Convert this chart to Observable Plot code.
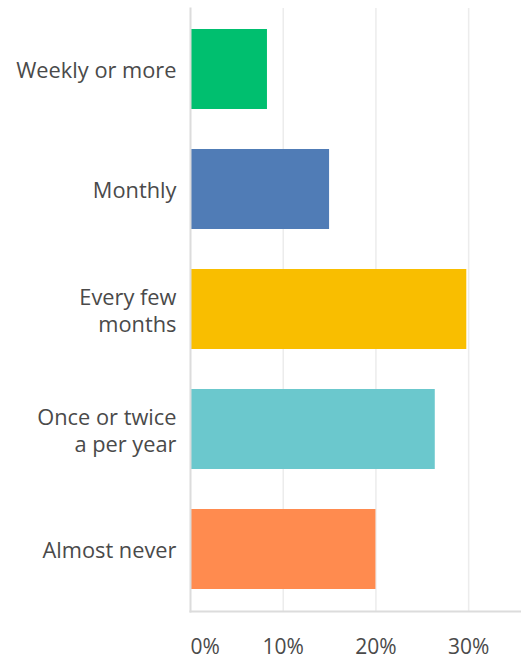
<!DOCTYPE html>
<html>
<head>
<meta charset="utf-8">
<script src="https://cdn.jsdelivr.net/npm/d3@7"></script>
<script src="https://cdn.jsdelivr.net/npm/@observablehq/plot@0.6"></script>
<style>
  html, body { margin: 0; padding: 0; background: #fff; }
  svg { display: block; }
</style>
</head>
<body>
<div id="chart"></div>
<script>
const categories = ["Weekly or more", "Monthly", "Every few months", "Once or twice a per year", "Almost never"];
const labels = ["Weekly or more", "Monthly", "Every few\nmonths", "Once or twice\na per year", "Almost never"];
const values = [8.3, 15.0, 29.8, 26.4, 20.0];
const colors = ["#00BF6F", "#507CB6", "#F9BE00", "#6BC8CD", "#FF8B4F"];
const xTicks = [0, 10, 20, 30];
const xTickLabels = ["0%", "10%", "20%", "30%"];

const data = categories.map((c, i) => ({category: c, value: values[i], color: colors[i]}));
const labelOf = new Map(categories.map((c, i) => [c, labels[i]]));
const tickLabelOf = new Map(xTicks.map((t, i) => [t, xTickLabels[i]]));

const chart = Plot.plot({
  width: 521,
  height: 658,
  marginLeft: 190,
  marginRight: 0,
  marginTop: 8,
  marginBottom: 47,
  style: {fontFamily: "'Open Sans', sans-serif", fontSize: "22px", color: "#4a4a4a", background: "#fff"},
  x: {domain: [0, 35.7], axis: null, label: null},
  y: {domain: categories, paddingInner: 0.333, paddingOuter: 0.167, axis: null, label: null},
  marks: [
    Plot.gridX([10, 20, 30], {stroke: "#ececec", strokeOpacity: 1, strokeWidth: 1.5}),
    Plot.barX(data, {y: "category", x: "value", fill: d => d.color}),
    Plot.frame({anchor: "left", stroke: "#dcdcdc", strokeWidth: 2}),
    Plot.frame({anchor: "bottom", stroke: "#dcdcdc", strokeWidth: 2}),
    Plot.axisY({tickSize: 0, tickPadding: 14, label: null, tickFormat: d => labelOf.get(d), lineHeight: 1.24, fontSize: 21.8, fill: "#4a4a4a"}),
    Plot.axisX([0], {tickSize: 0, tickPadding: 28, label: null, textAnchor: "start", tickFormat: d => tickLabelOf.get(d), fontSize: 21, fill: "#4a4a4a"}),
    Plot.axisX([10, 20, 30], {tickSize: 0, tickPadding: 28, label: null, tickFormat: d => tickLabelOf.get(d), fontSize: 21, fill: "#4a4a4a"})
  ]
});
document.getElementById("chart").appendChild(chart);
</script>
</body>
</html>
